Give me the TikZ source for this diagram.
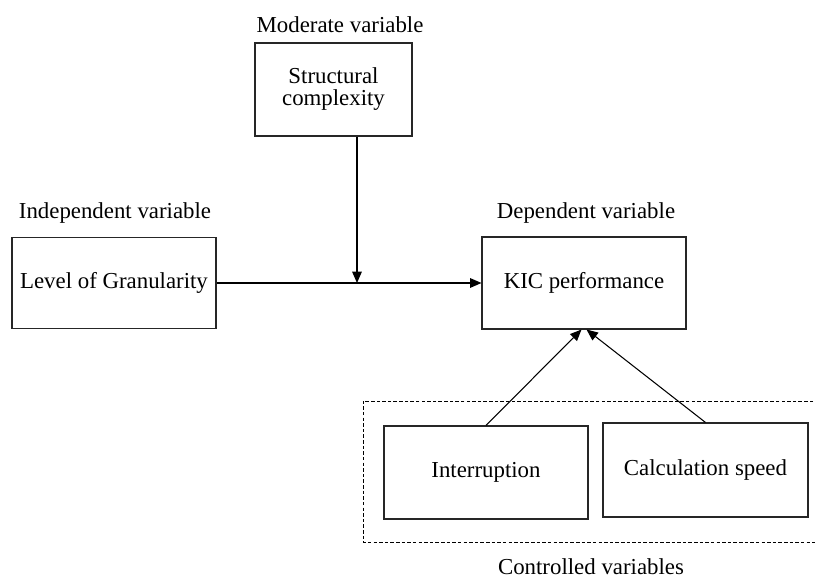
\documentclass[tikz,border=0pt]{standalone}
\usepackage{fontspec}
\setmainfont{Liberation Serif}
\usepackage{tikz}
\usetikzlibrary{arrows.meta, positioning, calc}

\begin{document}
\begin{tikzpicture}[
          box/.style={rectangle, draw=black!85, line width=0.6pt, minimum width=4.08cm, minimum height=1.84cm, align=center, font=\fontsize{13}{12.5}\selectfont},
          lbl/.style={font=\fontsize{13}{15}\selectfont},
          arrow/.style={-{Triangle[length=6.5pt, width=5.5pt]}, line width=0.6pt}
        ]
          \useasboundingbox (0,0) rectangle (16.3,11.58);
          \clip (0,0) rectangle (16.3,11.58);

          % Variables
          \node[box, minimum width=3.14cm, minimum height=1.86cm] (mod) at (6.67, 9.79) {Structural\\complexity};
          \node[box, minimum height=1.82cm] (gran) at (2.28, 5.92) {Level of Granularity};
          \node[box] (kic) at (11.68, 5.92) {KIC performance};
          \node[box, minimum height=1.86cm] (intr) at (9.72, 2.13) {Interruption};
          \node[box, minimum width=4.10cm, minimum height=1.88cm] (calc) at (14.11, 2.18) {Calculation speed};

          % Group of controlled variables
          \draw[line width=0.5pt, dash pattern=on 2pt off 1.2pt] (16.6, 3.56) -- (7.26, 3.56) -- (7.26, 0.74) -- (16.6, 0.74);

          % Labels
          \node[lbl] (modl) at (6.8, 11.08) {Moderate variable};
          \node[lbl] (indl) at (2.3, 7.32) {Independent variable};
          \node[lbl] (depl) at (11.72, 7.32) {Dependent variable};
          \node[lbl, inner sep=1pt] (ctll) at (11.82, 0.24) {Controlled variables};

          % Connections
          \coordinate (mid) at (7.14, 5.92);
          \draw[arrow] (gran) -- (kic);
          \draw[arrow] (mod.south -| mid) -- (mid);
          \draw[arrow] (intr.north) -- ([xshift=-0.05cm]kic.south);
          \draw[arrow] (calc.north) -- ([xshift=0.05cm]kic.south);
        \end{tikzpicture}
\end{document}
